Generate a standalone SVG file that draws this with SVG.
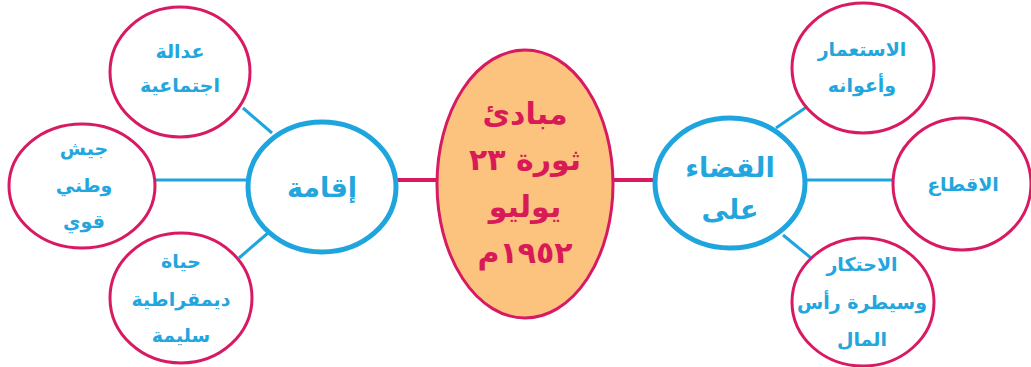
<svg xmlns="http://www.w3.org/2000/svg" width="1031" height="367" viewBox="0 0 1031 367">
<style>
.pink{fill:#ffffff;stroke:#d81a63;stroke-width:3}
.blue{fill:#ffffff;stroke:#1ea5de;stroke-width:5}
.lb{stroke:#1ea5de;stroke-width:3}
.lp{stroke:#d81a63;stroke-width:4}
text{font-family:"DejaVu Sans",sans-serif;font-weight:bold;text-anchor:middle;direction:rtl}
.t{fill:#23a6dd;font-size:19px}
.tm{fill:#23a6dd;font-size:27px}
.tc{fill:#d81a57;font-size:30px}
</style>
<rect width="1031" height="367" fill="#ffffff"/>
<g id="connectors">
<line class="lp" x1="396" y1="180" x2="438" y2="180"/>
<line class="lp" x1="612" y1="180" x2="655" y2="180"/>
<line class="lb" x1="155" y1="180" x2="247" y2="180"/>
<line class="lb" x1="243" y1="108" x2="272" y2="133"/>
<line class="lb" x1="239" y1="258" x2="268" y2="233"/>
<line class="lb" x1="776" y1="128" x2="808" y2="106"/>
<line class="lb" x1="805" y1="180" x2="894" y2="180"/>
<line class="lb" x1="783" y1="235" x2="811" y2="258"/>
</g>
<g id="center">
<ellipse cx="525" cy="184" rx="88" ry="134" fill="#fcc37f" stroke="#d81a63" stroke-width="3"/>
<text class="tc" x="525" y="124">مبادئ</text>
<text class="tc" x="525" y="170">ثورة ٢٣</text>
<text class="tc" x="525" y="217">يوليو</text>
<text class="tc" x="525" y="263">١٩٥٢م</text>
</g>
<g id="iqama">
<ellipse class="blue" cx="322" cy="187" rx="74" ry="65"/>
<text class="tm" x="322" y="197">إقامة</text>
</g>
<g id="qadaa">
<ellipse class="blue" cx="730" cy="183" rx="75" ry="65"/>
<text class="tm" x="730" y="177">القضاء</text>
<text class="tm" x="730" y="219">على</text>
</g>
<g id="adala">
<ellipse class="pink" cx="180" cy="72" rx="70" ry="65"/>
<text class="t" x="180" y="58">عدالة</text>
<text class="t" x="180" y="92">اجتماعية</text>
</g>
<g id="jaysh">
<ellipse class="pink" cx="82" cy="186" rx="73" ry="62"/>
<text class="t" x="84" y="155">جيش</text>
<text class="t" x="84" y="192">وطني</text>
<text class="t" x="84" y="228">قوي</text>
</g>
<g id="hayah">
<ellipse class="pink" cx="181" cy="298" rx="71" ry="65"/>
<text class="t" x="181" y="268">حياة</text>
<text class="t" x="181" y="306">ديمقراطية</text>
<text class="t" x="181" y="342">سليمة</text>
</g>
<g id="istimar">
<ellipse class="pink" cx="863" cy="68" rx="71" ry="65"/>
<text class="t" x="862" y="56">الاستعمار</text>
<text class="t" x="862" y="92">وأعوانه</text>
</g>
<g id="iqta">
<ellipse class="pink" cx="962" cy="184" rx="69" ry="66"/>
<text class="t" x="963" y="191">الاقطاع</text>
</g>
<g id="ihtikar">
<ellipse class="pink" cx="863" cy="302" rx="71" ry="64"/>
<text class="t" x="862" y="271">الاحتكار</text>
<text class="t" x="862" y="309">وسيطرة رأس</text>
<text class="t" x="862" y="346">المال</text>
</g>
</svg>
